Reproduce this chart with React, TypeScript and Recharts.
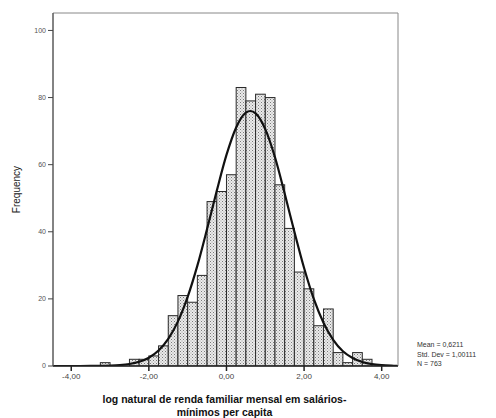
import {
  ComposedChart,
  Bar,
  Line,
  XAxis,
  YAxis,
  ReferenceArea,
  Label,
} from "recharts";

// histogram bins (lower edge, width 0.25) and counts
const BIN_WIDTH = 0.25;
const binStarts = [
  -3.25, -2.5, -2.25, -2.0, -1.75, -1.5, -1.25, -1.0, -0.75, -0.5, -0.25, 0,
  0.25, 0.5, 0.75, 1.0, 1.25, 1.5, 1.75, 2.0, 2.25, 2.5, 2.75, 3.0, 3.25, 3.5,
];
const counts = [
  1, 2, 2, 3, 6, 15, 21, 19, 27, 49, 52, 57, 83, 79, 81, 80, 54, 41, 28, 23,
  12, 17, 4, 1, 4, 2,
];

// fitted normal curve
const curveX = [
  -4.45, -4.0, -3.5, -3.25, -3.0, -2.75, -2.5, -2.25, -2.0, -1.75, -1.5, -1.25,
  -1.0, -0.75, -0.5, -0.25, 0, 0.25, 0.5, 0.62, 0.75, 1.0, 1.25, 1.5, 1.75, 2.0,
  2.25, 2.5, 2.75, 3.0, 3.25, 3.5, 3.75, 4.0, 4.25, 4.4,
];
const curveY = [
  0, 0, 0.02, 0.04, 0.11, 0.26, 0.59, 1.25, 2.48, 4.63, 8.1, 13.3, 20.6, 29.9,
  40.8, 52.2, 62.9, 71.1, 75.5, 76.0, 75.3, 70.6, 62.2, 51.4, 40.0, 29.2, 20.0,
  12.9, 7.8, 4.4, 2.4, 1.2, 0.56, 0.25, 0.1, 0.05,
];

const xTicks = [-4, -2, 0, 2, 4];
const yTicks = [0, 20, 40, 60, 80, 100];
const statsLines = ["Mean = 0,6211", "Std. Dev = 1,00111", "N = 763"];
const xTitle = ["log natural de renda familiar mensal em salários-", "mínimos per capita"];

const X_MIN = -4.47;
const X_MAX = 4.42;
const Y_MAX = 105.2;

const W = 496;
const H = 418;
const PLOT_LEFT = 53;
const PLOT_RIGHT = 398;

type Row = { x: number; count?: number; curve?: number };

function buildRows(): Row[] {
  const map = new Map<number, Row>();
  binStarts.forEach((s, i) => {
    const x = +(s + BIN_WIDTH / 2).toFixed(4);
    map.set(x, { ...(map.get(x) ?? { x }), count: counts[i] });
  });
  curveX.forEach((x, i) => {
    map.set(x, { ...(map.get(x) ?? { x }), curve: curveY[i] });
  });
  return [...map.values()].sort((a, b) => a.x - b.x);
}

const rows = buildRows();
const barPx = ((PLOT_RIGHT - PLOT_LEFT) / (X_MAX - X_MIN)) * BIN_WIDTH;

const FONT = "'Liberation Sans', Arial, sans-serif";

// recharts narrows bars to the smallest gap between rows, so draw each bin at full bin width
function BinShape(props: { x?: number; y?: number; width?: number; height?: number }) {
  const { x = 0, y = 0, width = 0, height = 0 } = props;
  if (!height) return null;
  const cx = x + width / 2;
  return (
    <rect
      x={cx - barPx / 2}
      y={y}
      width={barPx}
      height={height}
      fill="url(#stipple)"
      stroke="#2a2a2a"
      strokeWidth={1}
    />
  );
}

function XTitle({ viewBox }: { viewBox?: { x: number; y: number; width: number } }) {
  if (!viewBox) return null;
  const cx = viewBox.x + viewBox.width / 2 - 1;
  return (
    <text
      textAnchor="middle"
      fontFamily={FONT}
      fontWeight="bold"
      fontSize={10.5}
      fill="#111"
    >
      <tspan x={cx} y={viewBox.y + 37}>
        {xTitle[0]}
      </tspan>
      <tspan x={cx} y={viewBox.y + 50}>
        {xTitle[1]}
      </tspan>
    </text>
  );
}

export default function App() {
  return (
    <div style={{ position: "absolute", left: 0, top: 0, width: W, height: H, background: "#fff" }}>
      <svg width={0} height={0} style={{ position: "absolute" }}>
        <defs>
          <pattern id="stipple" width={3} height={3} patternUnits="userSpaceOnUse">
            <rect width={3} height={3} fill="#ebebeb" />
            <rect x={0} y={0} width={1} height={1} fill="#7a7a7a" />
            <rect x={1.5} y={1.5} width={1} height={1} fill="#9a9a9a" />
          </pattern>
        </defs>
      </svg>
      <ComposedChart
        width={W}
        height={H}
        data={rows}
        margin={{ top: 13, right: W - PLOT_RIGHT, bottom: 0, left: 0 }}
        barCategoryGap={0}
      >
        <XAxis
          dataKey="x"
          type="number"
          domain={[X_MIN, X_MAX]}
          ticks={xTicks}
          allowDataOverflow
          height={52}
          stroke="#222"
          strokeWidth={1.5}
          tickSize={5}
          tick={{ fontSize: 8, fill: "#444", fontFamily: FONT }}
          tickFormatter={(v: number) => v.toFixed(2).replace(".", ",")}
        >
          <Label content={<XTitle />} />
        </XAxis>
        <YAxis
          type="number"
          domain={[0, Y_MAX]}
          ticks={yTicks}
          allowDataOverflow
          width={PLOT_LEFT}
          stroke="#444"
          tickSize={5}
          tick={{ fontSize: 7, fill: "#555", fontFamily: FONT }}
        >
          <Label
            value="Frequency"
            angle={-90}
            position="insideLeft"
            offset={16}
            style={{ fontSize: 10, fill: "#222", fontFamily: FONT, textAnchor: "middle" }}
          />
        </YAxis>
        <ReferenceArea
          x1={X_MIN}
          x2={X_MAX}
          y1={0}
          y2={Y_MAX}
          fill="none"
          stroke="#888"
          strokeWidth={1}
          ifOverflow="visible"
        />
        <Bar
          dataKey="count"
          shape={<BinShape />}
          isAnimationActive={false}
        />
        <Line
          dataKey="curve"
          type="monotone"
          stroke="#111"
          strokeWidth={2.2}
          dot={false}
          connectNulls
          isAnimationActive={false}
        />
      </ComposedChart>
      <div
        style={{
          position: "absolute",
          left: 417,
          top: 340,
          fontFamily: FONT,
          fontSize: 7,
          lineHeight: "9.5px",
          color: "#333",
          whiteSpace: "nowrap",
        }}
      >
        {statsLines.map((s) => (
          <div key={s}>{s}</div>
        ))}
      </div>
    </div>
  );
}
